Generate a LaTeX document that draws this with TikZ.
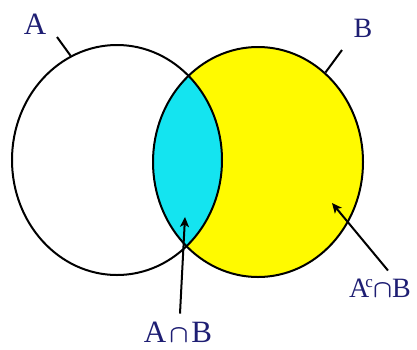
\documentclass[tikz,border=0pt]{standalone}
\usepackage{fontspec}
\setmainfont{Liberation Serif}
\usetikzlibrary{shapes.geometric,arrows.meta}
\definecolor{labelblue}{RGB}{30,30,115}
\definecolor{lensfill}{RGB}{20,228,240}
\definecolor{setyellow}{RGB}{255,250,0}
\tikzset{
  setoutline/.style={ellipse, draw=black, line width=2pt, minimum width=210pt, minimum height=230pt, inner sep=0pt},
  setlabel/.style={text=labelblue, inner sep=0pt, font=\fontsize{31}{34}\selectfont},
  tick/.style={line width=2pt, black},
  pointer/.style={line width=2pt, black, -{Stealth[length=10pt,width=9pt,inset=2.5pt]}}
}
\newcommand{\bcap}{{\boldmath$\cap$}}
\begin{document}
\begin{tikzpicture}[x=1pt,y=-1pt]
\useasboundingbox (0,0) rectangle (417,349);
% fills
\fill[setyellow] (258,162) ellipse [x radius=105, y radius=115];
\begin{scope}
  \clip (117,160) ellipse [x radius=105, y radius=115];
  \fill[lensfill] (258,162) ellipse [x radius=105, y radius=115];
\end{scope}
% outlines
\node[setoutline] (A) at (117,160) {};
\node[setoutline] (B) at (258,162) {};
% labels
\node[setlabel] (labA) at (35,24) {A};
\node[setlabel, font=\fontsize{28}{30}\selectfont] (labB) at (363,28) {B};
\node[setlabel] (labAB) at (178,332) {A\kern3pt\bcap\kern3pt B};
\node[setlabel, font=\fontsize{28}{30}\selectfont] (labAcB) at (380,288) {A\kern-4pt\raisebox{10pt}{\fontsize{17}{18}\selectfont c}\bcap B};
% tick marks
\coordinate (tA) at (57,37);
\coordinate (tB) at (342,50);
\draw[tick] (A.114.6) -- (tA);
\draw[tick] (B.53.3) -- (tB);
% arrows
\coordinate (pAB) at (185,217);
\coordinate (pAcB) at (332,203);
\draw[pointer] ([xshift=2pt,yshift=8pt]labAB.north) -- (pAB);
\draw[pointer] ([xshift=8pt,yshift=8pt]labAcB.north) -- (pAcB);
\end{tikzpicture}
\end{document}
